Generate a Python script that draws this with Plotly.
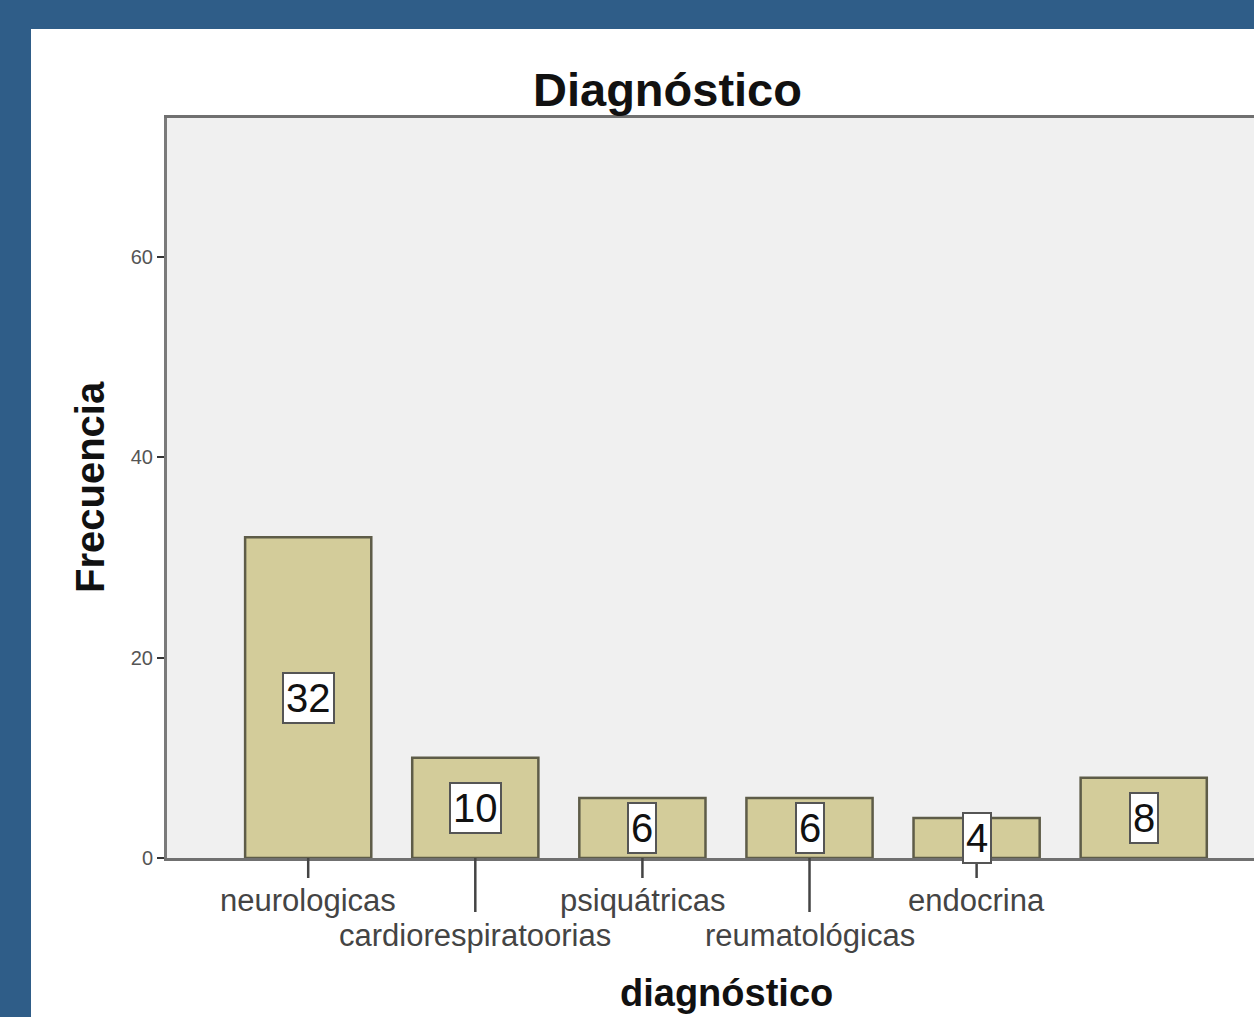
import plotly.graph_objects as go

# ---- data ----
categories = ["neurologicas", "cardiorespiratoorias", "psiquátricas",
              "reumatológicas", "endocrina", " "]
shown_labels = ["neurologicas", "cardiorespiratoorias", "psiquátricas",
                "reumatológicas", "endocrina", ""]
frecuencia = [32, 10, 6, 6, 4, 8]
label_row = [0, 1, 0, 1, 0, 1]          # staggered tick-label rows
y_tick_vals = [0, 20, 40, 60]

title_text = "Diagnóstico"
x_title = "diagnóstico"
y_title = "Frecuencia"

# ---- layout geometry (pixels) ----
W, H = 1254, 1017
L, R, T, B = 167, 0, 118, 159
pw, ph = W - L - R, H - T - B

def px_x(x):
    return (x - L) / pw

def px_y(y):
    return (H - B - y) / ph

BAR_FILL = "#d3cc9a"
BAR_LINE = "#5e5c48"
BLUE = "#2f5d88"
FONT = "Liberation Sans, Arial, sans-serif"

fig = go.Figure()
fig.add_trace(go.Bar(
    x=categories, y=frecuencia, width=0.755,
    marker=dict(color=BAR_FILL, line=dict(color=BAR_LINE, width=2.5)),
    hoverinfo="x+y",
))

annotations = []
shapes = []

# blue frame strips (left and top)
shapes.append(dict(type="rect", xref="paper", yref="paper",
                   x0=px_x(-5), x1=px_x(31), y0=px_y(H + 5), y1=px_y(-5),
                   fillcolor=BLUE, line=dict(width=0), layer="below"))
shapes.append(dict(type="rect", xref="paper", yref="paper",
                   x0=px_x(-5), x1=px_x(W + 5), y0=px_y(29), y1=px_y(-5),
                   fillcolor=BLUE, line=dict(width=0), layer="below"))

# value labels in white boxes at bar mid-height
for c, v in zip(categories, frecuencia):
    annotations.append(dict(
        x=c, y=v / 2, xref="x", yref="y", text=str(v), showarrow=False,
        font=dict(family=FONT, size=40, color="#111"),
        bgcolor="white", bordercolor="#555", borderwidth=2, borderpad=2,
        xanchor="center", yanchor="middle"))

# tick marks and staggered tick labels
for c, lab, row in zip(categories, shown_labels, label_row):
    if not lab:
        continue
    tick_end = 878 if row == 0 else 912
    shapes.append(dict(type="line", xref="x", yref="paper", x0=c, x1=c,
                       y0=px_y(858), y1=px_y(tick_end),
                       line=dict(color="#444", width=2.5)))
    center_y = 900 if row == 0 else 935
    annotations.append(dict(
        x=c, y=px_y(center_y), xref="x", yref="paper", text=lab,
        showarrow=False, font=dict(family=FONT, size=31, color="#444"),
        xanchor="center", yanchor="middle"))

# titles
annotations.append(dict(x=px_x(667), y=px_y(89), xref="paper", yref="paper",
                        text="<b>" + title_text + "</b>", showarrow=False,
                        font=dict(family=FONT, size=47, color="#111"),
                        xanchor="center", yanchor="middle"))
annotations.append(dict(x=px_x(726), y=px_y(993), xref="paper", yref="paper",
                        text="<b>" + x_title + "</b>", showarrow=False,
                        font=dict(family=FONT, size=38, color="#111"),
                        xanchor="center", yanchor="middle"))
annotations.append(dict(x=px_x(90), y=px_y(487), xref="paper", yref="paper",
                        text="<b>" + y_title + "</b>", showarrow=False,
                        textangle=-90,
                        font=dict(family=FONT, size=40, color="#111"),
                        xanchor="center", yanchor="middle"))

fig.update_layout(
    width=W, height=H,
    margin=dict(l=L, r=R, t=T, b=B, pad=0),
    paper_bgcolor="white",
    plot_bgcolor="#f0f0f0",
    showlegend=False,
    bargap=0.245,
    annotations=annotations,
    shapes=shapes,
    xaxis=dict(type="category", range=[-0.845, 5.66],
               showticklabels=False, ticks="", showgrid=False, zeroline=False,
               showline=True, linecolor="#707070", linewidth=3, mirror=True,
               fixedrange=True),
    yaxis=dict(range=[0, 73.85], tickvals=y_tick_vals, ticks="outside",
               ticklen=7, tickwidth=2, tickcolor="#333",
               tickfont=dict(family=FONT, size=20, color="#555"),
               showgrid=False, zeroline=False,
               showline=True, linecolor="#7a7a7a", linewidth=3, mirror=False,
               fixedrange=True),
)

fig.write_html("out.html",
               config={"displayModeBar": False},
               post_script="document.body.style.margin='0';"
                           "document.body.style.overflow='hidden';")
